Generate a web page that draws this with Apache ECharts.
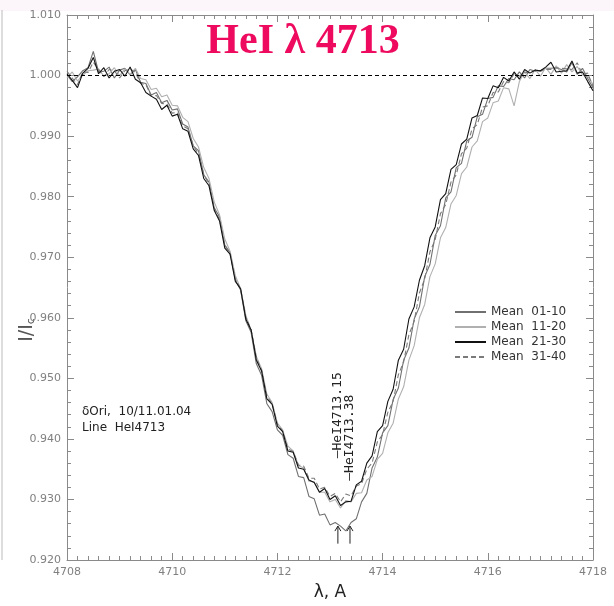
<!DOCTYPE html>
<html><head><meta charset="utf-8">
<script src="https://cdn.jsdelivr.net/npm/echarts@6/dist/echarts.min.js"></script>
<style>html,body{margin:0;padding:0;background:#fff}#c{width:614px;height:606px}</style>
</head><body><div id="c"></div>
<script>
const lambda = [4708.0,4708.1,4708.2,4708.3,4708.4,4708.5,4708.6,4708.7,4708.8,4708.9,
4709.0,4709.1,4709.2,4709.3,4709.4,4709.5,4709.6,4709.7,4709.8,4709.9,
4710.0,4710.1,4710.2,4710.3,4710.4,4710.5,4710.6,4710.7,4710.8,4710.9,
4711.0,4711.1,4711.2,4711.3,4711.4,4711.5,4711.6,4711.7,4711.8,4711.9,
4712.0,4712.1,4712.2,4712.3,4712.4,4712.5,4712.6,4712.7,4712.8,4712.9,
4713.0,4713.1,4713.2,4713.3,4713.4,4713.5,4713.6,4713.7,4713.8,4713.9,
4714.0,4714.1,4714.2,4714.3,4714.4,4714.5,4714.6,4714.7,4714.8,4714.9,
4715.0,4715.1,4715.2,4715.3,4715.4,4715.5,4715.6,4715.7,4715.8,4715.9,
4716.0,4716.1,4716.2,4716.3,4716.4,4716.5,4716.6,4716.7,4716.8,4716.9,
4717.0,4717.1,4717.2,4717.3,4717.4,4717.5,4717.6,4717.7,4717.8,4717.9,4718.0];

const mean01_10 = [1.0001,0.9990,0.9998,1.0008,1.0013,1.0040,1.0006,1.0007,1.0014,0.9996,
1.0009,1.0012,1.0001,1.0010,0.9989,0.9987,0.9968,0.9972,0.9955,0.9959,
0.9943,0.9945,0.9920,0.9915,0.9884,0.9876,0.9836,0.9824,0.9781,0.9767,
0.9720,0.9708,0.9663,0.9646,0.9595,0.9576,0.9524,0.9505,0.9458,0.9445,
0.9415,0.9406,0.9374,0.9368,0.9338,0.9336,0.9305,0.9301,0.9274,0.9276,
0.9258,0.9262,0.9256,0.9248,0.9262,0.9268,0.9296,0.9310,0.9352,0.9370,
0.9410,0.9422,0.9465,0.9484,0.9530,0.9550,0.9598,0.9618,0.9668,0.9688,
0.9736,0.9752,0.9798,0.9808,0.9848,0.9855,0.9892,0.9898,0.9932,0.9936,
0.9962,0.9964,0.9983,0.9982,0.9995,0.9993,1.0006,0.9996,1.0010,1.0007,
1.0008,1.0012,1.0012,1.0013,1.0010,1.0006,1.0021,1.0002,1.0012,0.9995,0.9980];

const mean11_20 = [0.9996,1.0006,0.9991,1.0001,1.0008,1.0009,1.0011,0.9999,1.0003,1.0013,
1.0000,1.0011,1.0002,1.0012,0.9995,0.9993,0.9977,0.9979,0.9965,0.9968,
0.9951,0.9950,0.9931,0.9924,0.9896,0.9882,0.9848,0.9830,0.9791,0.9770,
0.9730,0.9710,0.9670,0.9648,0.9604,0.9580,0.9536,0.9516,0.9474,0.9460,
0.9426,0.9415,0.9388,0.9380,0.9356,0.9352,0.9330,0.9329,0.9312,0.9312,
0.9296,0.9300,0.9286,0.9298,0.9296,0.9310,0.9311,0.9332,0.9338,0.9366,
0.9376,0.9410,0.9426,0.9466,0.9486,0.9530,0.9554,0.9600,0.9622,0.9668,
0.9689,0.9732,0.9749,0.9788,0.9802,0.9838,0.9849,0.9882,0.9892,0.9924,
0.9930,0.9955,0.9958,0.9980,0.9978,0.9950,0.9990,1.0006,0.9995,1.0010,
0.9999,1.0013,1.0002,1.0016,1.0004,1.0018,1.0006,1.0015,1.0001,0.9999,0.9985];

const mean21_30 = [1.0003,0.9992,0.9980,1.0004,1.0012,1.0030,1.0003,1.0013,0.9996,1.0007,
1.0010,0.9999,1.0014,0.9994,0.9988,0.9972,0.9966,0.9961,0.9944,0.9951,
0.9933,0.9936,0.9912,0.9908,0.9879,0.9868,0.9830,0.9818,0.9777,0.9760,
0.9715,0.9705,0.9660,0.9648,0.9598,0.9580,0.9530,0.9512,0.9466,0.9457,
0.9421,0.9412,0.9380,0.9378,0.9352,0.9350,0.9332,0.9328,0.9312,0.9318,
0.9300,0.9306,0.9290,0.9296,0.9297,0.9324,0.9330,0.9360,0.9372,0.9412,
0.9422,0.9462,0.9482,0.9530,0.9548,0.9598,0.9618,0.9662,0.9686,0.9732,
0.9750,0.9795,0.9805,0.9845,0.9853,0.9887,0.9895,0.9930,0.9934,0.9963,
0.9962,0.9983,0.9980,0.9997,0.9991,1.0006,0.9994,1.0010,1.0004,1.0009,
1.0008,1.0014,1.0022,1.0006,1.0007,1.0008,1.0024,1.0004,1.0006,0.9990,0.9975];

const mean31_40 = [1.0007,0.9996,0.9985,1.0006,1.0005,1.0022,1.0010,0.9998,1.0010,1.0008,
0.9996,1.0008,1.0011,1.0005,0.9987,0.9985,0.9966,0.9967,0.9954,0.9953,
0.9938,0.9939,0.9917,0.9912,0.9884,0.9871,0.9837,0.9820,0.9782,0.9762,
0.9720,0.9706,0.9664,0.9648,0.9601,0.9580,0.9534,0.9513,0.9470,0.9458,
0.9424,0.9413,0.9383,0.9379,0.9357,0.9355,0.9335,0.9335,0.9317,0.9320,
0.9305,0.9310,0.9296,0.9309,0.9306,0.9322,0.9326,0.9350,0.9360,0.9395,
0.9407,0.9444,0.9462,0.9506,0.9527,0.9572,0.9594,0.9641,0.9664,0.9709,
0.9729,0.9772,0.9787,0.9824,0.9836,0.9871,0.9880,0.9912,0.9919,0.9948,
0.9950,0.9972,0.9973,0.9990,0.9988,1.0003,0.9999,1.0006,1.0004,1.0009,
1.0007,1.0010,1.0010,1.0013,1.0012,1.0011,1.0010,1.0021,1.0002,1.0004,0.9982];

const seriesNames = ['Mean  01-10','Mean  11-20','Mean  21-30','Mean  31-40'];
const seriesColors = ['#707070','#b0b0b0','#111111','#7a7a7a'];
const seriesDash = ['solid','solid','solid',[5,3]];
const seriesValues = [mean01_10, mean11_20, mean21_30, mean31_40];

const continuumLevel = 1.000;
const lineIds = [4713.15, 4713.38];
const lineLabels = ['\u2014HeI4713.15','\u2014HeI4713.38'];

const chart = echarts.init(document.getElementById('c'), null, {renderer:'canvas'});
const axisGray = '#8a8a8a';
const labelFont = 'DejaVu Sans';

const xBase = {
  type:'value', min:4708, max:4718, interval:2,
  axisLine:{show:true, lineStyle:{color:axisGray, width:1}},
  axisTick:{show:true, inside:true, length:7, lineStyle:{color:axisGray}},
  minorTick:{show:true, splitNumber:10, length:4, lineStyle:{color:axisGray}},
  splitLine:{show:false}, minorSplitLine:{show:false}
};
const yBase = {
  type:'value', min:0.92, max:1.01, interval:0.01,
  axisLine:{show:true, lineStyle:{color:axisGray, width:1}},
  axisTick:{show:true, inside:true, length:7, lineStyle:{color:axisGray}},
  minorTick:{show:true, splitNumber:5, length:4, lineStyle:{color:axisGray}},
  splitLine:{show:false}, minorSplitLine:{show:false}
};

const option = {
  animation:false,
  backgroundColor:'#ffffff',
  grid:{left:67, right:21, top:15, bottom:46, containLabel:false, outerBoundsMode:'none'},
  legend:{
    orient:'vertical', left:449, top:301, itemGap:3, itemWidth:31, itemHeight:14,
    itemStyle:{opacity:0},
    textStyle:{fontFamily:labelFont, fontSize:12, color:'#333'},
    data:seriesNames.slice()
  },
  xAxis:[
    Object.assign({}, xBase, {position:'bottom',
      axisLabel:{color:'#808080', fontSize:11, fontFamily:labelFont, margin:7, formatter:v=>String(Math.round(v))},
      name:'\u03bb, A', nameLocation:'middle', nameGap:24,
      nameTextStyle:{fontFamily:labelFont, fontSize:17, color:'#222'}}),
    Object.assign({}, xBase, {position:'top', axisLabel:{show:false}})
  ],
  yAxis:[
    Object.assign({}, yBase, {position:'left',
      axisLabel:{color:'#808080', fontSize:11, fontFamily:labelFont, margin:6,
        formatter:v=>v.toFixed(3)}}),
    Object.assign({}, yBase, {position:'right', axisLabel:{show:false}})
  ],
  series: seriesValues.map((vals,i)=>({
    name:seriesNames[i], type:'line', xAxisIndex:0, yAxisIndex:0,
    symbol:'none', smooth:false,
    lineStyle:{color:seriesColors[i], width:1.1, type:seriesDash[i]},
    itemStyle:{color:seriesColors[i]},
    data: lambda.map((x,k)=>[x, vals[k]]),
    markLine: i===0 ? {silent:true, symbol:'none', label:{show:false},
      lineStyle:{color:'#000', type:[4,3], width:1},
      data:[{yAxis:continuumLevel}]} : undefined,
    z: i===2 ? 4 : 3
  }))
};
chart.setOption(option);

const g = [];
g.push({type:'rect', shape:{x:0,y:0,width:614,height:11}, style:{fill:'#fcf5fa'}, silent:true, z:-1});
g.push({type:'line', shape:{x1:2,y1:10,x2:2,y2:560}, style:{stroke:'#bbb', lineWidth:1}, silent:true});
g.push({type:'text', x:303, y:21, style:{text:'HeI \u03bb 4713', fill:'#ee0a5e', align:'center',
  font:'bold 42px "Liberation Serif", "DejaVu Serif", serif'}, z:10});
g.push({type:'text', x:27, y:330, rotation:Math.PI/2, style:{
  text:'{n|I/I}{s|c}', align:'center', verticalAlign:'middle',
  rich:{n:{font:'19px "DejaVu Sans"', fill:'#555'}, s:{font:'11px "DejaVu Sans"', fill:'#555', padding:[9,0,0,0]}}}});
g.push({type:'text', left:82, top:404, style:{text:'\u03b4Ori,  10/11.01.04\nLine  HeI4713',
  fill:'#222', font:'12px "DejaVu Sans"', lineHeight:16}});
const textY = [0.9439, 0.9402];
lineIds.forEach((lam,i)=>{
  const p = chart.convertToPixel({xAxisIndex:0, yAxisIndex:0}, [lam, textY[i]]);
  g.push({type:'text', x:p[0], y:p[1], rotation:Math.PI/2,
    style:{text:lineLabels[i], fill:'#222', font:'13px "DejaVu Sans Mono"', align:'center', verticalAlign:'middle'}});
  const a = chart.convertToPixel({xAxisIndex:0, yAxisIndex:0}, [lam, 0.9227]);
  const b = chart.convertToPixel({xAxisIndex:0, yAxisIndex:0}, [lam, 0.9256]);
  g.push({type:'line', shape:{x1:a[0],y1:a[1],x2:b[0],y2:b[1]}, style:{stroke:'#222', lineWidth:1}});
  g.push({type:'polyline', shape:{points:[[b[0]-3,b[1]+5],[b[0],b[1]],[b[0]+3,b[1]+5]]}, style:{stroke:'#222', lineWidth:1, fill:null}});
});
chart.setOption({graphic:g});
</script></body></html>
